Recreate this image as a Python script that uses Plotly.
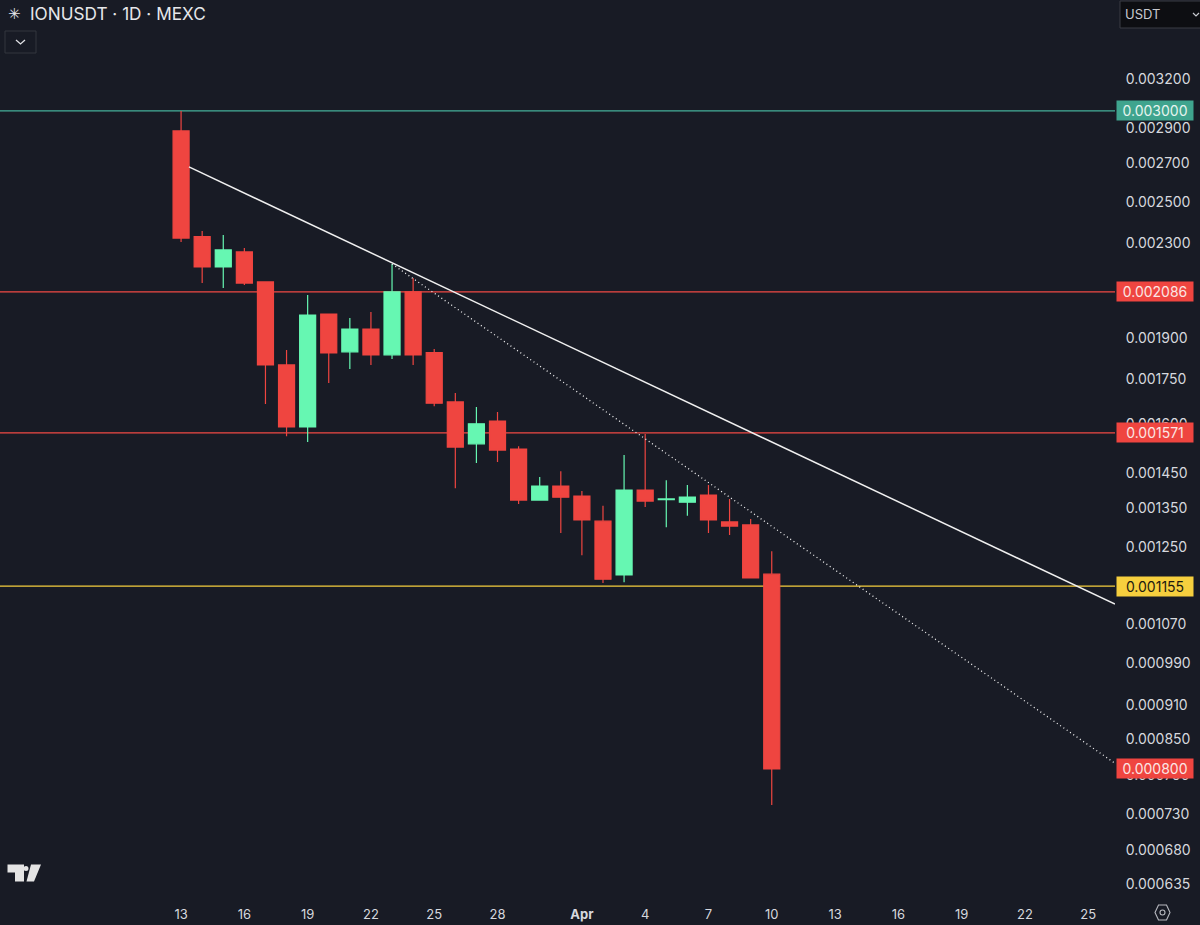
import math
import pandas as pd
import plotly.graph_objects as go

# Daily candles
dates = pd.date_range('2025-03-13', '2025-04-10', freq='D')
opens = [0.002882, 0.002331, 0.002193, 0.002260, 0.002128, 0.001801, 0.001590, 0.001995, 0.001849, 0.001936,
         0.001838, 0.002086, 0.001846, 0.001672, 0.001537, 0.001609, 0.001521, 0.001373, 0.001412, 0.001384,
         0.001316, 0.001181, 0.001401, 0.001374, 0.001367, 0.001387, 0.001314, 0.001306, 0.001183]
closes = [0.002324, 0.002193, 0.002269, 0.002123, 0.001801, 0.001590, 0.001991, 0.001845, 0.001936, 0.001838,
          0.002086, 0.001838, 0.001668, 0.001527, 0.001600, 0.001518, 0.001373, 0.001412, 0.001381, 0.001319,
          0.001171, 0.001401, 0.001370, 0.001376, 0.001381, 0.001319, 0.001303, 0.001174, 0.000800]
highs = [0.003000, 0.002357, 0.002338, 0.002278, 0.002128, 0.001856, 0.002073, 0.001995, 0.001979, 0.002003,
         0.002206, 0.002145, 0.001860, 0.001702, 0.001655, 0.001639, 0.001530, 0.001438, 0.001455, 0.001398,
         0.001357, 0.001503, 0.001568, 0.001429, 0.001415, 0.001415, 0.001376, 0.001322, 0.001239]
lows = [0.002306, 0.002123, 0.002102, 0.002115, 0.001665, 0.001561, 0.001543, 0.001737, 0.001786, 0.001801,
        0.001823, 0.001801, 0.001658, 0.001406, 0.001479, 0.001482, 0.001362, 0.001373, 0.001285, 0.001229,
        0.001162, 0.001164, 0.001354, 0.001300, 0.001330, 0.001285, 0.001280, 0.001174, 0.000744]

# Levels and their price badges
level_values = [0.003000, 0.002086, 0.001571, 0.001155, 0.000800]
level_labels = ['0.003000', '0.002086', '0.001571', '0.001155', '0.000800']
level_colors = ['#45b09a', '#f04a45', '#f04a45', '#f6cf3e', None]
badge_colors = ['#3fa48e', '#ef4540', '#ef4540', '#f6cf3e', '#ef4540']
badge_text = ['#e6f4ef', '#fbe6e4', '#fbe6e4', '#1c1a10', '#fbe6e4']

# Trend lines
solid_x = ['2025-03-13 09:00', '2025-04-26 06:30']
solid_y = [0.002681, 0.001114]
dotted_x = ['2025-03-23', '2025-04-26 06:30']
dotted_y = [0.002206, 0.000809]

# Axis ticks
price_ticks = [0.0032, 0.0029, 0.0027, 0.0025, 0.0023, 0.0019, 0.00175, 0.0016, 0.00145, 0.00135, 0.00125,
               0.00107, 0.00099, 0.00091, 0.00085, 0.00079, 0.00073, 0.00068, 0.000635]
date_ticks = ['2025-03-13', '2025-03-16', '2025-03-19', '2025-03-22', '2025-03-25', '2025-03-28', '2025-04-01',
              '2025-04-04', '2025-04-07', '2025-04-10', '2025-04-13', '2025-04-16', '2025-04-19', '2025-04-22',
              '2025-04-25']
date_labels = ['13', '16', '19', '22', '25', '28', '<b>Apr</b>', '4', '7', '10', '13', '16', '19', '22', '25']

BG = '#181b25'
RED = '#ef4540'
GREEN = '#66f7b2'
TEXT = '#d6d8de'
FONT = 'Inter, Roboto, sans-serif'
W, H = 1200, 925


def px(x):
    return x / W


def py(y):
    return 1 - y / H


def path(points, close=False):
    s = 'M ' + ' L '.join(f'{px(a):.5f} {py(b):.5f}' for a, b in points)
    return s + ' Z' if close else s


fig = go.Figure()

fig.add_trace(go.Candlestick(
    x=dates, open=opens, high=highs, low=lows, close=closes,
    increasing=dict(line=dict(color=GREEN, width=1.2), fillcolor=GREEN),
    decreasing=dict(line=dict(color=RED, width=1.2), fillcolor=RED),
    whiskerwidth=0, showlegend=False,
))
fig.add_trace(go.Scatter(x=solid_x, y=solid_y, mode='lines', showlegend=False,
                         line=dict(color='#f0f0f0', width=1.5)))
fig.add_trace(go.Scatter(x=dotted_x, y=dotted_y, mode='lines', showlegend=False,
                         line=dict(color='#f4f4f4', width=1.3, dash='1px,3px')))

# horizontal levels go under the candles
for value, color in zip(level_values, level_colors):
    if color:
        fig.add_hline(y=value, line=dict(color=color, width=1.2), layer='below')

for value, label, bg, fg in zip(level_values, level_labels, badge_colors, badge_text):
    fig.add_annotation(x=px(1116), xref='paper', xanchor='left', y=math.log10(value), yref='y', yanchor='middle',
                       text=label, showarrow=False, bgcolor=bg, width=74, height=17, borderpad=1,
                       font=dict(family=FONT, size=14, color=fg))

# header text
fig.add_annotation(x=px(28), y=py(14), xref='paper', yref='paper', xanchor='left', yanchor='middle',
                   text='IONUSDT · 1D · MEXC', showarrow=False, font=dict(family=FONT, size=17.2, color='#e6e7ea'))
fig.add_annotation(x=px(14), y=py(14), xref='paper', yref='paper', xanchor='center', yanchor='middle',
                   text='✳', showarrow=False, font=dict(family='DejaVu Sans', size=15, color='#e6e7ea'))
fig.add_annotation(x=px(1123), y=py(14), xref='paper', yref='paper', xanchor='left', yanchor='middle',
                   text='USDT', showarrow=False, font=dict(family=FONT, size=13, color='#c8cad0'))

shapes = [
    # collapse button
    dict(type='rect', x0=px(5), x1=px(36), y0=py(31), y1=py(53), line=dict(color='#33363f', width=1)),
    dict(type='path', path=path([(16, 40), (20.5, 44), (25, 40)]), line=dict(color='#e0e1e5', width=1.3)),
    # currency selector
    dict(type='rect', x0=px(1120), x1=px(1202), y0=py(1), y1=py(28), fillcolor='#0d0e12',
         line=dict(color='#3a3c44', width=1), layer='below'),
    dict(type='path', path=path([(1193, 13), (1196, 16), (1199, 13)]), line=dict(color='#c8cad0', width=1.2)),
    # TradingView logo
    dict(type='path', path=path([(7.5, 864.5), (24, 864.5), (24, 881.5), (15, 881.5), (15, 872.5), (7.5, 872.5)], True),
         fillcolor='#e4e4e4', line=dict(width=0)),
    dict(type='circle', x0=px(23.5), x1=px(28.5), y0=py(866), y1=py(871), fillcolor='#e4e4e4', line=dict(width=0)),
    dict(type='path', path=path([(31, 864.5), (41, 864.5), (34, 881.5), (26.5, 881.5)], True),
         fillcolor='#e4e4e4', line=dict(width=0)),
    # settings icon
    dict(type='path', path=path([(1155, 912.5), (1158.5, 905), (1166.5, 905), (1170, 912.5), (1166.5, 920), (1158.5, 920)], True),
         line=dict(color='#b8bac0', width=1.1)),
    dict(type='circle', x0=px(1160), x1=px(1165), y0=py(910), y1=py(915), line=dict(color='#b8bac0', width=1.1)),
]
for s in shapes:
    fig.add_shape(xref='paper', yref='paper', **s)

fig.update_layout(
    width=W, height=H, margin=dict(l=0, r=0, t=0, b=0),
    paper_bgcolor=BG, plot_bgcolor=BG, boxmode='overlay', boxgap=0.24, boxgroupgap=0,
    font=dict(family=FONT, color=TEXT), hovermode=False,
    xaxis=dict(domain=[0, 1115 / W], type='date', range=['2025-03-04 10:00', '2025-04-26 06:30'],
               rangeslider=dict(visible=False), showgrid=False, zeroline=False, showline=False,
               tickmode='array', tickvals=date_ticks, ticktext=date_labels,
               ticks='outside', ticklen=7, tickcolor=BG, tickangle=0,
               tickfont=dict(family=FONT, size=13, color=TEXT)),
    yaxis=dict(domain=[1 - 895 / H, 1], type='log', side='right', anchor='x',
               range=[math.log10(0.000621), math.log10(0.003749)], showgrid=False, zeroline=False, showline=False,
               tickmode='array', tickvals=price_ticks, ticktext=[f'{v:.6f}' for v in price_ticks],
               ticks='outside', ticklen=7, tickcolor=BG,
               tickfont=dict(family=FONT, size=14, color=TEXT)),
)

fig.write_html('out.html', config=dict(displayModeBar=False),
               post_script="document.body.style.margin='0';document.body.style.background='#181b25';")
